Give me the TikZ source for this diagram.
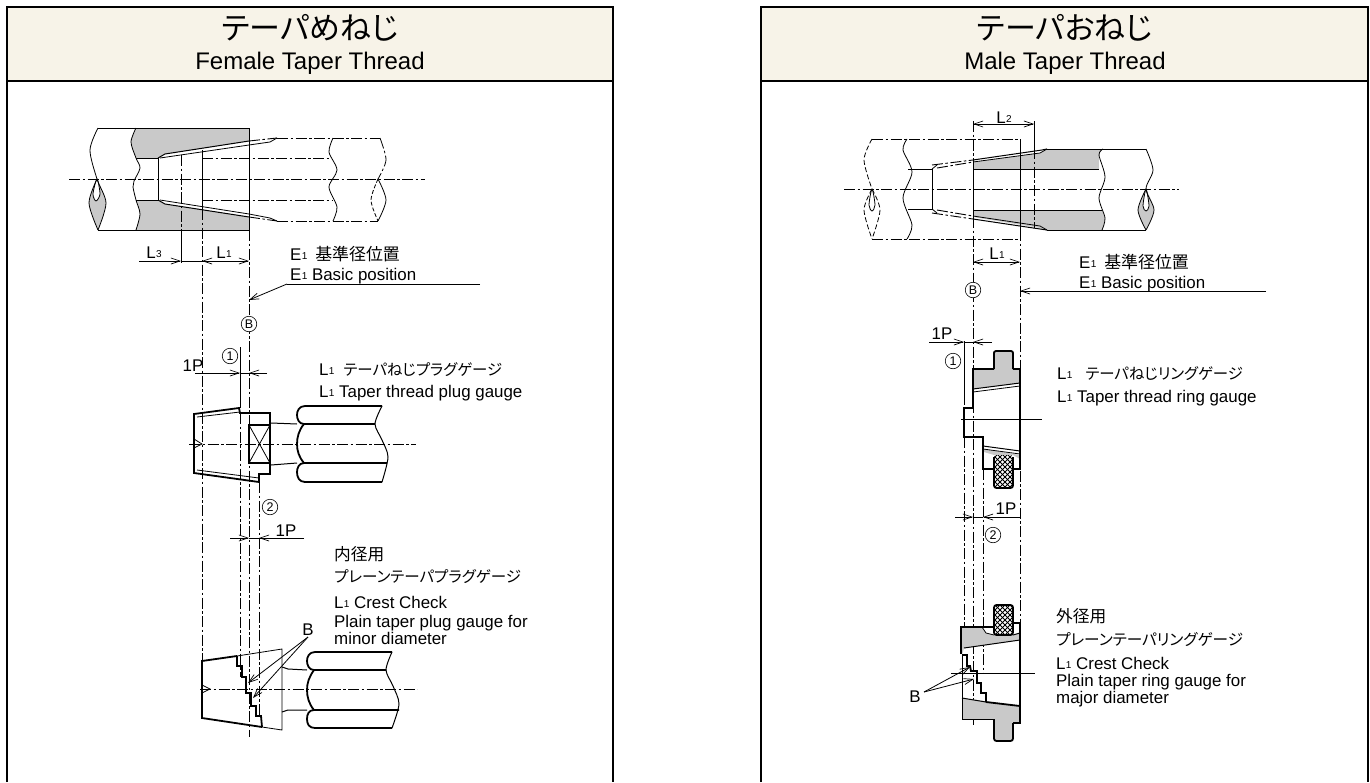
\documentclass[tikz,border=0pt]{standalone}
\usepackage{fontspec}
\setmainfont{Liberation Sans}
\newfontfamily\jp[RawFeature=+palt]{Noto Sans CJK JP}
\usetikzlibrary{arrows.meta}
\definecolor{hdr}{HTML}{F7F3E8}
\definecolor{gr}{HTML}{C9C9C9}
\newcommand{\Lsub}[1]{{L\kern0.3pt\raisebox{0.6pt}{\fontsize{10}{10}\selectfont #1}}}
\newcommand{\Esub}[1]{{E\kern0.3pt\raisebox{0.6pt}{\fontsize{10}{10}\selectfont #1}}}
\newcommand{\kana}[1]{{\fontsize{15.4}{20}\selectfont\jp #1}}
\tikzset{
  x=1pt,y=-1pt,
  thinl/.style={line width=0.8pt,black},
  thickl/.style={line width=1.8pt,black,line join=miter},
  midl/.style={line width=1pt,black},
  cl/.style={line width=0.9pt,black,dash pattern=on 11pt off 2.5pt on 2.5pt off 2.5pt},
  barb/.style={-{Straight Barb[length=9pt,width=6pt,line width=0.7pt]}},
  bbarb/.style={{Straight Barb[length=9pt,width=6pt,line width=0.7pt]}-{Straight Barb[length=9pt,width=6pt,line width=0.7pt]}},
  lbl/.style={font=\fontsize{16.9}{20}\selectfont,anchor=base west,inner sep=0pt},
  clbl/.style={font=\fontsize{16.9}{20}\selectfont,anchor=base,inner sep=0pt},
  circ/.style={circle,draw,line width=0.6pt,inner sep=0pt,minimum size=15.5pt,font=\fontsize{12.5}{13}\selectfont,fill=white},
  panel/.style={line width=1.4pt,black},
  title/.style={font=\fontsize{31}{36}\selectfont\jp,anchor=center,inner sep=0pt},
  subt/.style={font=\fontsize{24}{26}\selectfont,anchor=center,inner sep=0pt},
}
\begin{document}
\begin{tikzpicture}
\useasboundingbox (0,0) rectangle (1370,782);
% ---------- panels
\fill[hdr] (7,7) rectangle (613,81);
\fill[hdr] (761,7) rectangle (1368,81);
\draw[panel] (7,782) -- (7,7) -- (613,7) -- (613,782);
\draw[panel] (7,81) -- (613,81);
\draw[panel] (761,782) -- (761,7) -- (1368,7) -- (1368,782);
\draw[panel] (761,81) -- (1368,81);
\node[title] (t1) at (310,28) {テーパめねじ};
\node[subt] (s1) at (310,63) {Female Taper Thread};
\node[title] (t2) at (1065,28) {テーパおねじ};
\node[subt] (s2) at (1065,63) {Male Taper Thread};

% ---------- FEMALE top
\fill[gr] (136,128) -- (249,128) -- (249,141) -- (165,154) -- (158,158) -- plot[smooth] coordinates {(136,158) (131,142) (136,128)} -- cycle;
\fill[gr] (136,230) -- (249,230) -- (249,217) -- (165,204) -- (158,200) -- plot[smooth] coordinates {(136,200) (140,214) (136,230)} -- cycle;
\fill[gr] plot[smooth] coordinates {(97,179) (106,203) (98,230)} -- plot[smooth] coordinates {(98,230) (89,203) (97,179)} -- cycle;
\fill[white,draw=black,line width=0.8pt] plot[smooth cycle] coordinates {(97,179) (93,194) (96,201) (100,194)};
\draw[midl] (98,128) -- (249,128) -- (249,230) -- (98,230);
\draw[thinl] plot[smooth] coordinates {(98,128) (90,150) (97,179) (106,203) (98,230)};
\draw[thinl] plot[smooth] coordinates {(97,179) (89,203) (98,230)};
\draw[thinl] plot[smooth] coordinates {(136,128) (131,142) (136,158) (140,168) (134,181) (133,187) (136,200) (140,214) (136,230)};
\draw[midl] (136,158) -- (158,158) -- (158,200) -- (136,200);
\draw[midl] (158,158) -- (165,154) -- (249,141);
\draw[midl] (158,200) -- (165,204) -- (249,217);
\draw[thinl] (160,158) -- (249,145) -- (270,142) -- (277,138);
\draw[thinl] (160,200) -- (249,214) -- (270,218) -- (277,221);
\draw[cl] (249,141) -- (277,138);
\draw[cl] (249,217) -- (277,221);
\draw[cl] (277,138) -- (380,138);
\draw[cl] (277,221) -- (378,221);
\draw[cl] (202,158) -- (329,158);
\draw[cl] (202,200) -- (333,200);
\draw[thinl] plot[smooth] coordinates {(333,138) (329,152) (337,170) (329,187) (337,207) (333,221)};
\draw[cl,line width=0.8pt] plot[smooth] coordinates {(380,138) (386,160) (378,179)};
\draw[thinl] plot[smooth] coordinates {(378,179) (386,200) (378,221)};
\draw[thinl,dash pattern=on 4pt off 2pt] plot[smooth] coordinates {(378,179) (371,200) (378,221)};
\draw[midl] (202,150) -- (202,209);
\draw[cl] (202,209) -- (202,661);
\draw[cl,line width=0.8pt] (181,155) -- (181,230);
\draw[thinl] (181,230) -- (181,263);
\draw[cl,line width=0.8pt] (249,230) -- (249,737);
\draw[cl] (69,179) -- (425,179);
% dims
\coordinate (l3a) at (139,261); \coordinate (l3b) at (181,261);
\coordinate (l1a) at (202,261); \coordinate (l1b) at (249,261);
\draw[thinl,barb] (l3a) -- (l3b);
\draw[thinl] (l3b) -- (l1a);
\draw[thinl,bbarb] (l1a) -- (l1b);
\node[clbl] (fL3) at (154,258) {\Lsub{3}};
\node[clbl] (fL1) at (224,258) {\Lsub{1}};
\node[lbl] (fE1) at (290,260) {\Esub{1}\hspace{8pt}{\jp 基準径位置}};
\node[lbl] (fE2) at (290,280) {\Esub{1} Basic position};
\coordinate (fu1) at (480,284); \coordinate (fu2) at (287,284); \coordinate (fu3) at (249,300);
\draw[thinl] (fu1) -- (fu2);
\draw[thinl,barb] (fu2) -- (fu3);
\node[circ] (fB) at (249,324) {B};
% 1P upper
\draw[thinl] (240,347) -- (240,408);
\draw[cl,line width=0.8pt] (240,413) -- (240,677);
\node[circ,draw=black] (fc1) at (230,356) {1};
\node[clbl] (fP1) at (193,371) {1P};
\coordinate (fa1) at (195,373); \coordinate (fa2) at (240,373); \coordinate (fa3) at (267,373); \coordinate (fa4) at (249,373);
\draw[thinl,barb] (fa1) -- (fa2);
\draw[thinl] (fa2) -- (fa4);
\draw[thinl,barb] (fa3) -- (fa4);
\node[lbl] (fp1) at (319,375) {\Lsub{1}\hspace{9pt}\kana{テーパねじプラグゲージ}};
\node[lbl] (fp2) at (319,397) {\Lsub{1} Taper thread plug gauge};
% plug gauge 1
\draw[thickl] (194,414) -- (239,408) -- (240,413) -- (270,413) -- (270,474) -- (259,474) -- (259,482) -- (194,473) -- cycle;
\draw[thinl] (197,417) -- (240,412);
\draw[thinl] (197,470) -- (259,478);
\draw[thickl] (249,425) rectangle (270,463);
\draw[thinl] (249,425) -- (270,463) (249,463) -- (270,425);
\draw[midl] (271,423) -- (297,424);
\draw[midl] (271,465) -- (297,463);
\draw[thickl] (382,406) -- (305,406) .. controls (299,406) and (297,411) .. (297,415) .. controls (297,419) and (299,424) .. (304,424) -- (375,424);
\draw[thickl] (304,424) .. controls (299,430) and (297,437) .. (297,444) .. controls (297,451) and (299,457) .. (304,463) -- (387,463);
\draw[thickl] (304,463) .. controls (299,463) and (297,468) .. (297,472) .. controls (297,477) and (299,482) .. (305,482) -- (382,482);
\draw[midl] plot[smooth] coordinates {(382,406) (375,424) (382,440) (388,457) (382,482)};
\draw[cl] (189,444) -- (416,444);
\draw[thinl] (194,439) -- (202,444) -- (194,448);
% 2 / 1P lower
\draw[cl,line width=0.8pt] (259,482) -- (259,716);
\node[circ] (fc2) at (270,507) {2};
\node[clbl] (fP2) at (286,536) {1P};
\coordinate (fb1) at (230,538); \coordinate (fb2) at (249,538); \coordinate (fb3) at (304,538); \coordinate (fb4) at (259,538);
\draw[thinl,barb] (fb1) -- (fb2);
\draw[thinl] (fb2) -- (fb4);
\draw[thinl,barb] (fb3) -- (fb4);
\node[lbl,font=\fontsize{16.7}{20}\selectfont\jp] (fq1) at (334,560) {内径用};
\node[lbl,font=\fontsize{15.5}{20}\selectfont\jp] (fq2) at (334,582) {プレーンテーパプラグゲージ};
\node[lbl] (fq3) at (334,608) {\Lsub{1} Crest Check};
\node[lbl] (fq4) at (334,627) {Plain taper plug gauge for};
\node[lbl] (fq5) at (334,644) {minor diameter};
\node[clbl] (fBB) at (308,635) {B};
% plain gauge
\draw[thinl] (237,656) -- (282,649) -- (282,730) -- (262,727);
\draw[thickl] (237,656) -- (202,661) -- (202,718) -- (262,727);
\draw[thickl] (237,656) -- (237,666) -- (242,666) -- (242,677) -- (246,677) -- (246,693) -- (251,693) -- (251,706) -- (256,706) -- (256,716) -- (261,716) -- (262,727);
\draw[midl] (282,667) -- (288,669) -- (307,670);
\draw[midl] (282,712) -- (288,710) -- (307,710);
\draw[thickl] (392,652) -- (315,652) .. controls (309,652) and (307,657) .. (307,661) .. controls (307,665) and (309,670) .. (314,670) -- (386,670);
\draw[thickl] (314,670) .. controls (309,677) and (307,683) .. (307,690) .. controls (307,697) and (309,704) .. (314,710) -- (399,710);
\draw[thickl] (314,710) .. controls (309,710) and (307,714) .. (307,719) .. controls (307,724) and (309,728) .. (315,728) -- (392,728);
\draw[midl] plot[smooth] coordinates {(392,652) (386,670) (393,686) (399,704) (392,728)};
\draw[cl] (200,689) -- (417,689);
\draw[thinl] (202,685) -- (210,689) -- (202,693);
\coordinate (fbs) at (308,637); \coordinate (fbt1) at (248,683); \coordinate (fbt2) at (253,698);
\draw[thinl,barb] (fbs) -- (fbt1);
\draw[thinl,barb] (fbs) -- (fbt2);

% ---------- MALE top
\fill[gr] (973,162) -- (1040,153) -- (1047,149) -- plot[smooth] coordinates {(1103,149) (1099,155) (1099,169)} -- (973,169) -- cycle;
\fill[gr] (973,217) -- (1040,228) -- (1047,230) -- plot[smooth] coordinates {(1102,230) (1105,218) (1102,210)} -- (973,210) -- cycle;
\fill[gr] plot[smooth] coordinates {(1146,189) (1154,210) (1146,230)} -- plot[smooth] coordinates {(1146,230) (1138,210) (1146,189)} -- cycle;
\fill[white,draw=black,line width=0.8pt] plot[smooth cycle] coordinates {(1146,189) (1143,206) (1146,211) (1149,206)};
\draw[midl] (1047,149) -- (1146,149);
\draw[midl] (1047,230) -- (1146,230);
\draw[midl] (973,169) -- (1099,169);
\draw[midl] (973,210) -- (1102,210);
\draw[midl] (973,162) -- (973,217);
\draw[thinl] plot[smooth] coordinates {(1103,149) (1099,155) (1105,177) (1099,198) (1105,218) (1102,230)};
\draw[thinl] plot[smooth] coordinates {(1146,149) (1153,170) (1146,189) (1154,210) (1146,230)};
\draw[thinl] plot[smooth] coordinates {(1146,189) (1138,210) (1146,230)};
\draw[midl] (973,160) -- (1042,150) -- (1047,149);
\draw[thinl] (973,162) -- (1040,153) -- (1047,149);
\draw[midl] (973,219) -- (1040,229) -- (1047,230);
\draw[thinl] (973,216) -- (1040,226) -- (1047,230);
\draw[cl] (872,139) -- (1020,139);
\draw[cl] (872,239) -- (1020,239);
\draw[midl] (1020,139) -- (1020,230);
\draw[cl,line width=0.8pt] (1020,230) -- (1020,623);
\draw[cl] (932,165) -- (973,160);
\draw[cl] (937,168) -- (973,162);
\draw[cl] (932,213) -- (973,219);
\draw[cl] (937,210) -- (973,216);
\draw[midl] (908,169) -- (932,169) -- (932,209) -- (908,209);
\draw[thinl] (932,169) -- (937,165);
\draw[thinl] (932,209) -- (937,213);
\draw[thinl] plot[smooth] coordinates {(907,139) (903,150) (912,172) (903,198) (912,225) (907,239)};
\draw[thinl,dash pattern=on 5pt off 2.5pt] plot[smooth] coordinates {(872,139) (864,160) (872,189)};
\draw[thinl,dash pattern=on 5pt off 2.5pt] plot[smooth] coordinates {(872,189) (864,210) (872,239)};
\draw[thinl,dash pattern=on 5pt off 2.5pt] plot[smooth] coordinates {(872,189) (880,210) (872,239)};
\draw[thinl] plot[smooth cycle] coordinates {(872,189) (869,205) (872,211) (875,205)};
\draw[cl] (844,189) -- (1179,189);
\draw[cl,line width=0.8pt] (973,121) -- (973,162);
\draw[cl,line width=0.8pt] (973,217) -- (973,725);
\draw[thinl] (1034,121) -- (1034,148);
\draw[cl,line width=0.8pt] (1034,148) -- (1034,228);
\coordinate (ml2a) at (973,124); \coordinate (ml2b) at (1034,124);
\draw[thinl,bbarb] (ml2a) -- (ml2b);
\node[clbl] (mL2) at (1004,123) {\Lsub{2}};
\coordinate (ml1a) at (973,262); \coordinate (ml1b) at (1020,262);
\draw[thinl,bbarb] (ml1a) -- (ml1b);
\node[clbl] (mL1) at (997,259) {\Lsub{1}};
\node[lbl] (mE1) at (1079,268) {\Esub{1}\hspace{8pt}{\jp 基準径位置}};
\node[lbl] (mE2) at (1079,288) {\Esub{1} Basic position};
\coordinate (mu1) at (1266,291); \coordinate (mu2) at (1020,291);
\draw[thinl,barb] (mu1) -- (mu2);
\node[circ] (mB) at (973,290) {B};
% ring gauge
\fill[gr] (973,369) -- (993,369) -- (993,351) -- (1013,351) -- (1013,369) -- (1020,369) -- (1020,383) -- (973,389) -- cycle;
\fill[gr] (984,449) -- (1020,455) -- (1020,459) -- (1013,455) -- (994,455) -- (984,452) -- cycle;
\draw[thinl] (964,341) -- (964,405);
\draw[cl,line width=0.8pt] (964,437) -- (964,627);
\node[clbl] (mP1) at (942,339) {1P};
\coordinate (mc1) at (929,342); \coordinate (mc2) at (964,342); \coordinate (mc3) at (992,342); \coordinate (mc4) at (973,342);
\draw[thinl,barb] (mc1) -- (mc2);
\draw[thinl] (mc2) -- (mc4);
\draw[thinl,barb] (mc3) -- (mc4);
\node[circ] (mc) at (953,361) {1};
\draw[thickl] (973,408) -- (964,408) -- (964,437) -- (983,437) -- (983,469) -- (994,469);
\draw[thickl] (1013,469) -- (1020,469) -- (1020,369) -- (1013,369);
\draw[thickl,rounded corners=2pt] (1013,369) -- (1013,351) -- (994,351) -- (994,369);
\draw[thickl] (994,369) -- (973,369) -- (973,408);
\draw[midl] (973,389) -- (1020,383);
\draw[thinl] (973,392) -- (1020,386);
\draw[midl] (983,446) -- (1020,451);
\draw[thinl] (983,449) -- (1020,454);
% knurl 1
\begin{scope}
\clip[rounded corners=2.5pt] (994,455) rectangle (1013,488);
\fill[white] (994,455) rectangle (1013,488);
\foreach \k in {-60,-55,...,60} {
  \draw[line width=0.9pt] (985,452+\k) -- (1025,492+\k);
  \draw[line width=0.9pt] (985,492+\k) -- (1025,452+\k);
}
\end{scope}
\draw[thickl,rounded corners=2.5pt] (994,457) -- (994,488) -- (1013,488) -- (1013,457);
\draw[thinl] (961,419) -- (1042,419);
\node[lbl] (mp1) at (1057,379) {\Lsub{1}\hspace{13pt}\kana{テーパねじリングゲージ}};
\node[lbl] (mp2) at (1057,402) {\Lsub{1} Taper thread ring gauge};
% 1P lower
\draw[cl,line width=0.8pt] (983,469) -- (983,673);
\node[clbl] (mP2) at (1006,514) {1P};
\coordinate (md1) at (955,517); \coordinate (md2) at (973,517); \coordinate (md3) at (1020,517); \coordinate (md4) at (983,517);
\draw[thinl,barb] (md1) -- (md2);
\draw[thinl] (md2) -- (md4);
\draw[thinl,barb] (md3) -- (md4);
\node[circ] (mcc) at (993,535) {2};
% ring gauge 2
\fill[gr] (961,627) -- (982,627) -- (986,633) -- (994,635) -- (1013,635) -- (1020,633) -- (1020,640) -- (964,648) -- (962,655) -- cycle;
\fill[gr] (962,698) -- (1020,706) -- (1020,723) -- (1013,723) -- (1013,738) -- (1010,741) -- (997,741) -- (994,738) -- (994,719) -- (962,719) -- cycle;
\draw[thickl] (961,654) -- (961,627) -- (994,627);
\draw[thinl] (982,627) -- (986,633) -- (994,635);
\draw[thickl] (1013,623) -- (1020,623) -- (1020,723) -- (1013,723);
\draw[midl] (1013,635) -- (1020,633);
\draw[midl] (964,648) -- (1020,640);
\draw[thickl,rounded corners=2.5pt] (1013,723) -- (1013,741) -- (994,741) -- (994,719);
\draw[midl] (994,719) -- (962,719) -- (962,655);
\draw[thickl] (962,655) -- (967,655) -- (967,666) -- (970,666) -- (971,671) -- (977,671) -- (977,683) -- (981,683) -- (981,693) -- (986,693) -- (986,702);
\draw[midl] (962,698) -- (986,702);
\draw[thickl] (986,702) -- (1020,706);
\begin{scope}
\clip[rounded corners=2.5pt] (994,605) rectangle (1013,635);
\fill[white] (994,605) rectangle (1013,635);
\foreach \k in {-60,-55,...,60} {
  \draw[line width=0.9pt] (985,600+\k) -- (1025,640+\k);
  \draw[line width=0.9pt] (985,640+\k) -- (1025,600+\k);
}
\end{scope}
\draw[thickl,rounded corners=2.5pt] (994,605) rectangle (1013,635);
\draw[thinl] (951,673) -- (1035,673);
\node[lbl,font=\fontsize{16.7}{20}\selectfont\jp] (mq1) at (1056,622) {外径用};
\node[lbl,font=\fontsize{15.6}{20}\selectfont\jp] (mq2) at (1056,645) {プレーンテーパリングゲージ};
\node[lbl] (mq3) at (1056,669) {\Lsub{1} Crest Check};
\node[lbl] (mq4) at (1056,686) {Plain taper ring gauge for};
\node[lbl] (mq5) at (1056,703) {major diameter};
\node[clbl] (mBB) at (915,702) {B};
\coordinate (mbs) at (924,692); \coordinate (mbt1) at (970,667); \coordinate (mbt2) at (974,679);
\draw[thinl,barb] (mbs) -- (mbt1);
\draw[thinl,barb] (mbs) -- (mbt2);
\end{tikzpicture}
\end{document}
